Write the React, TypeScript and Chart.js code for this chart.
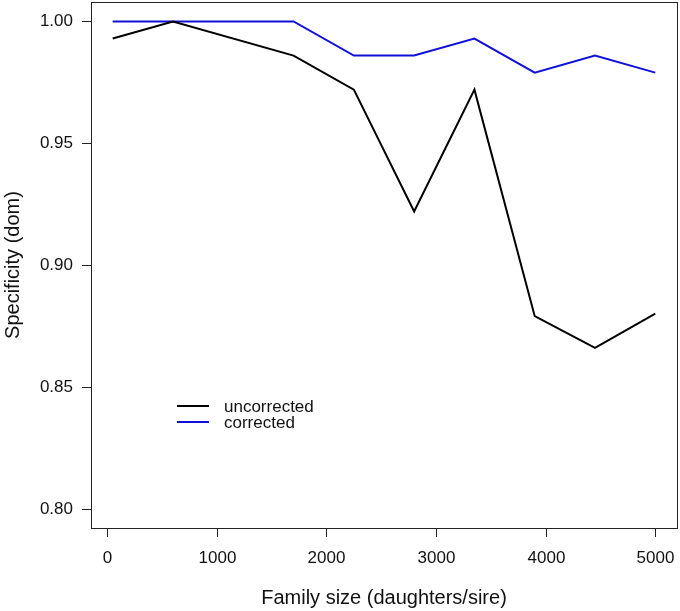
import React, { useEffect, useRef } from "react";
import { Chart, registerables } from "chart.js";

Chart.register(...registerables);

const familySize = [50, 600, 1700, 2250, 2800, 3350, 3900, 4450, 5000];
const uncorrected = [0.993, 1.0, 0.986, 0.972, 0.922, 0.972, 0.879, 0.866, 0.88];
const corrected = [1.0, 1.0, 1.0, 0.986, 0.986, 0.993, 0.979, 0.986, 0.979];
const xTicks = [0, 1000, 2000, 3000, 4000, 5000];
const yTicks = [0.8, 0.85, 0.9, 0.95, 1.0];
const seriesNames = ["uncorrected", "corrected"];
const xTitle = "Family size (daughters/sire)";
const yTitle = "Specificity (dom)";

const FONT = "'Liberation Sans', Arial, Helvetica, sans-serif";
const BLUE = "#1010d8";

const axesPlugin = {
  id: "rAxes",
  afterDraw(chart: any) {
    const ctx = chart.ctx;
    const area = chart.chartArea;
    const xs = chart.scales.x;
    const ys = chart.scales.y;
    ctx.save();
    ctx.strokeStyle = "#222";
    ctx.lineWidth = 1;
    ctx.strokeRect(Math.round(area.left) + 0.5, Math.round(area.top) + 0.5, Math.round(area.right - area.left), Math.round(area.bottom - area.top));
    ctx.fillStyle = "#111";
    ctx.font = `17px ${FONT}`;
    // x ticks
    ctx.textAlign = "center";
    ctx.textBaseline = "middle";
    for (const t of xTicks) {
      const px = Math.round(xs.getPixelForValue(t)) + 0.5;
      ctx.beginPath();
      ctx.moveTo(px, Math.round(area.bottom));
      ctx.lineTo(px, Math.round(area.bottom) + 9);
      ctx.stroke();
      ctx.fillText(String(t), px, 558);
    }
    // y ticks
    ctx.textAlign = "right";
    for (const t of yTicks) {
      const py = Math.round(ys.getPixelForValue(t)) + 0.5;
      ctx.beginPath();
      ctx.moveTo(Math.round(area.left), py);
      ctx.lineTo(Math.round(area.left) - 9, py);
      ctx.stroke();
      ctx.fillText(t.toFixed(2), 73, py);
    }
    // titles
    ctx.font = `20px ${FONT}`;
    ctx.textAlign = "center";
    ctx.fillText(xTitle, (area.left + area.right) / 2, 598);
    ctx.save();
    ctx.translate(13, (area.top + area.bottom) / 2);
    ctx.rotate(-Math.PI / 2);
    ctx.fillText(yTitle, 0, 0);
    ctx.restore();
    // legend
    const colors = ["#000", BLUE];
    ctx.font = `17px ${FONT}`;
    ctx.textAlign = "left";
    seriesNames.forEach((name, i) => {
      const ly = 406 + i * 16;
      ctx.strokeStyle = colors[i];
      ctx.lineWidth = 2;
      ctx.beginPath();
      ctx.moveTo(177, ly);
      ctx.lineTo(209, ly);
      ctx.stroke();
      ctx.fillStyle = "#111";
      ctx.fillText(name, 224, ly + 1);
    });
    ctx.restore();
  },
};

export default function App() {
  const ref = useRef<HTMLCanvasElement | null>(null);
  useEffect(() => {
    if (!ref.current) return;
    const chart = new Chart(ref.current, {
      type: "line",
      data: {
        datasets: [
          {
            label: seriesNames[0],
            data: familySize.map((x, i) => ({ x, y: uncorrected[i] })),
            borderColor: "#000",
            borderWidth: 2,
            pointRadius: 0,
            tension: 0,
            fill: false,
          },
          {
            label: seriesNames[1],
            data: familySize.map((x, i) => ({ x, y: corrected[i] })),
            borderColor: BLUE,
            borderWidth: 2,
            pointRadius: 0,
            tension: 0,
            fill: false,
          },
        ],
      },
      options: {
        animation: false,
        responsive: false,
        layout: { padding: { left: 91, right: 3, top: 2, bottom: 83 } },
        plugins: { legend: { display: false }, tooltip: { enabled: false } },
        scales: {
          x: { type: "linear", min: -148, max: 5198, display: false },
          y: { type: "linear", min: 0.792, max: 1.008, display: false },
        },
      },
      plugins: [axesPlugin],
    } as any);
    return () => chart.destroy();
  }, []);
  return (
    <div style={{ position: "absolute", left: 0, top: 0, width: 680, height: 611, background: "#fff" }}>
      <canvas ref={ref} width={680} height={611} />
    </div>
  );
}
